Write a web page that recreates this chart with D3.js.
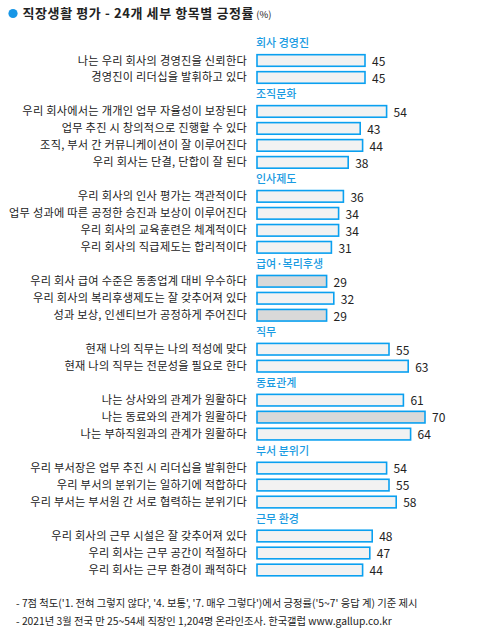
<!DOCTYPE html>
<html>
<head>
<meta charset="utf-8">
<script src="https://cdn.jsdelivr.net/npm/d3@7"></script>
<style>
  body { margin: 0; background: #fff; }
  text { font-family: "Noto Sans CJK KR", "Noto Sans", sans-serif; }
</style>
</head>
<body>
<div id="chart"></div>
<script>
// categories (headings) and the items under each one
var groups = ['회사 경영진', '조직문화', '인사제도', '급여·복리후생', '직무', '동료관계', '부서 분위기', '근무 환경'];

var labels = [
  '나는 우리 회사의 경영진을 신뢰한다',
  '경영진이 리더십을 발휘하고 있다',
  '우리 회사에서는 개개인 업무 자율성이 보장된다',
  '업무 추진 시 창의적으로 진행할 수 있다',
  '조직, 부서 간 커뮤니케이션이 잘 이루어진다',
  '우리 회사는 단결, 단합이 잘 된다',
  '우리 회사의 인사 평가는 객관적이다',
  '업무 성과에 따른 공정한 승진과 보상이 이루어진다',
  '우리 회사의 교육훈련은 체계적이다',
  '우리 회사의 직급제도는 합리적이다',
  '우리 회사 급여 수준은 동종업계 대비 우수하다',
  '우리 회사의 복리후생제도는 잘 갖추어져 있다',
  '성과 보상, 인센티브가 공정하게 주어진다',
  '현재 나의 직무는 나의 적성에 맞다',
  '현재 나의 직무는 전문성을 필요로 한다',
  '나는 상사와의 관계가 원활하다',
  '나는 동료와의 관계가 원활하다',
  '나는 부하직원과의 관계가 원활하다',
  '우리 부서장은 업무 추진 시 리더십을 발휘한다',
  '우리 부서의 분위기는 일하기에 적합하다',
  '우리 부서는 부서원 간 서로 협력하는 분위기다',
  '우리 회사의 근무 시설은 잘 갖추어져 있다',
  '우리 회사는 근무 공간이 적절하다',
  '우리 회사는 근무 환경이 쾌적하다'
];

var itemGroup = [0, 0, 1, 1, 1, 1, 2, 2, 2, 2, 3, 3, 3, 4, 4, 5, 5, 5, 6, 6, 6, 7, 7, 7];

var values = [45, 45, 54, 43, 44, 38, 36, 34, 34, 31, 29, 32, 29, 55, 63, 61, 70, 64, 54, 55, 58, 48, 47, 44];

var title = '직장생활 평가 - 24개 세부 항목별 긍정률';
var notes = [
  "- 7점 척도('1. 전혀 그렇지 않다', '4. 보통', '7. 매우 그렇다')에서 긍정률('5~7' 응답 계) 기준 제시",
  '- 2021년 3월 전국 만 25~54세 직장인 1,204명 온라인조사. 한국갤럽 www.gallup.co.kr'
];

var width = 479, height = 634;

// build the slot list: heading, then its rows
var slots = [];
groups.forEach(function(g, gi) {
  slots.push({type: 'head', key: 'h' + gi, text: g});
  itemGroup.forEach(function(ig, i) {
    if (ig === gi) slots.push({type: 'row', key: 'r' + i, text: labels[i], value: values[i]});
  });
});

var yScale = d3.scalePoint()
    .domain(slots.map(function(d) { return d.key; }))
    .range([43.5, 570]);

var xScale = d3.scaleLinear()
    .domain([0, 100])
    .range([257, 497]);

var vMin = d3.min(values), vMax = d3.max(values);

var svg = d3.select('#chart').append('svg')
    .attr('width', width)
    .attr('height', height);

// title
svg.append('circle')
    .attr('cx', 13).attr('cy', 13.5).attr('r', 4.6)
    .attr('fill', '#1796e6');

var t = svg.append('text')
    .attr('x', 22.5).attr('y', 18)
    .attr('fill', '#222')
    .style('font-size', '13px')
    .style('font-weight', 'bold')
    .style('letter-spacing', '0.6px')
    .text(title);
t.append('tspan')
    .style('font-size', '9.5px')
    .style('font-weight', 'normal')
    .style('letter-spacing', '0px')
    .text(' (%)');

var heads = slots.filter(function(d) { return d.type === 'head'; });
var rows = slots.filter(function(d) { return d.type === 'row'; });

svg.selectAll('.head')
    .data(heads)
    .enter()
    .append('text')
    .attr('class', 'head')
    .attr('x', 256)
    .attr('y', function(d) { return yScale(d.key); })
    .attr('dy', '0.36em')
    .attr('fill', '#1a9be2')
    .style('font-size', '11px')
    .style('font-weight', '500')
    .text(function(d) { return d.text; });

svg.selectAll('.label')
    .data(rows)
    .enter()
    .append('text')
    .attr('class', 'label')
    .attr('x', 247)
    .attr('y', function(d) { return yScale(d.key); })
    .attr('dy', '0.36em')
    .attr('text-anchor', 'end')
    .attr('fill', '#222')
    .style('font-size', '11.2px')
    .style('letter-spacing', '0.25px')
    .text(function(d) { return d.text; });

svg.selectAll('.bar')
    .data(rows)
    .enter()
    .append('rect')
    .attr('class', 'bar')
    .attr('x', xScale(0))
    .attr('y', function(d) { return yScale(d.key) - 5.8; })
    .attr('width', function(d) { return xScale(d.value) - xScale(0); })
    .attr('height', 11.6)
    .attr('fill', function(d) { return (d.value === vMin || d.value === vMax) ? '#d9d9d9' : '#f2f2f2'; })
    .attr('stroke', '#0aa0f0')
    .attr('stroke-width', 1.6);

svg.selectAll('.value')
    .data(rows)
    .enter()
    .append('text')
    .attr('class', 'value')
    .attr('x', function(d) { return xScale(d.value) + 7; })
    .attr('y', function(d) { return yScale(d.key) + 1; })
    .attr('dy', '0.36em')
    .attr('fill', '#222')
    .style('font-size', '12px')
    .text(function(d) { return d.value; });

svg.selectAll('.note')
    .data(notes)
    .enter()
    .append('text')
    .attr('class', 'note')
    .attr('x', 16)
    .attr('y', function(d, i) { return 603.5 + i * 17.5; })
    .attr('dy', '0.36em')
    .attr('fill', '#222')
    .style('font-size', '10.3px')
    .text(function(d) { return d; });
</script>
</body>
</html>
